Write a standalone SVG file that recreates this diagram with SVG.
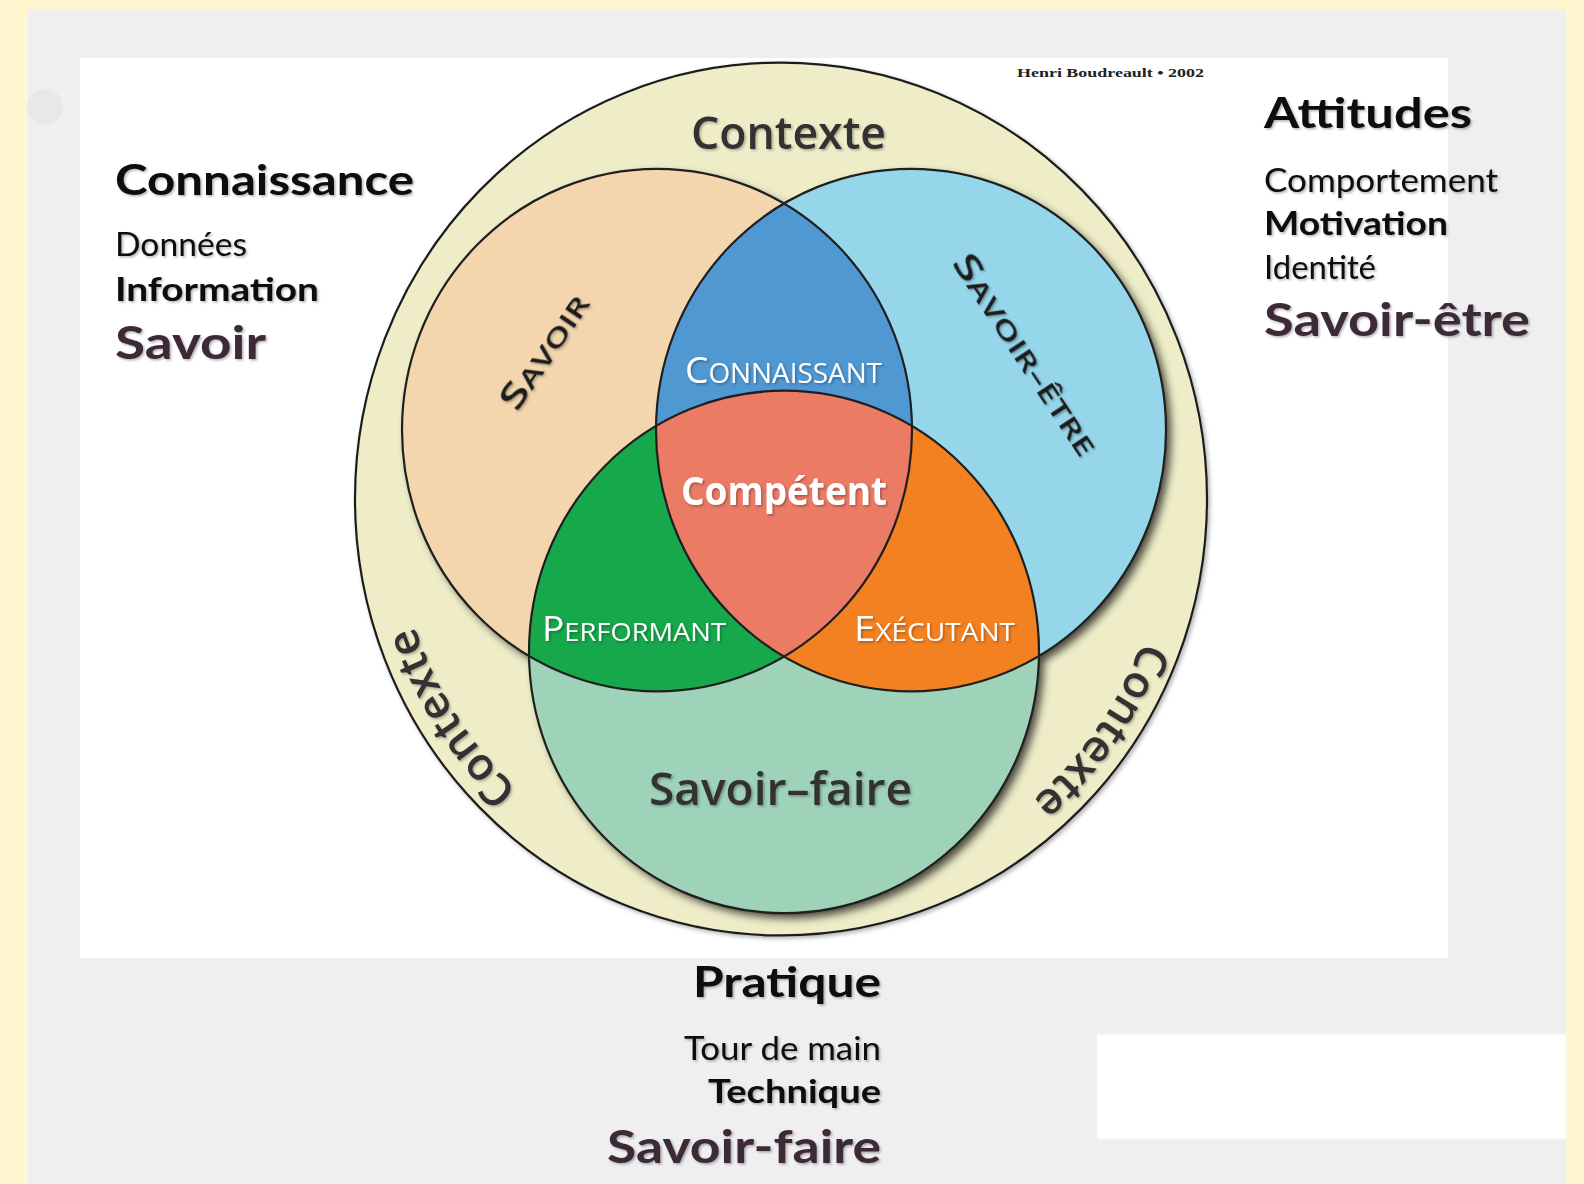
<svg xmlns="http://www.w3.org/2000/svg" xmlns:xlink="http://www.w3.org/1999/xlink" width="1584" height="1184" viewBox="0 0 1584 1184">
  <style>
    .side { font-family: Lato, "Open Sans", "Liberation Sans", sans-serif; fill: #0d0d0d; }
    .b { font-weight: 700; }
    .big { font-weight: 700; fill: #3c2a37; }
    .lbl { font-family: "Open Sans", "Noto Sans", "Liberation Sans", sans-serif; }
    .dark { fill: #333030; }
    .rot { fill: #1e1e1e; font-weight: 600; }
    .white { fill: #ffffff; }
    .edge { fill: none; stroke: #1f1f1f; stroke-width: 2.2; }
  </style>
  <defs>
    <filter id="shadow" x="-20%" y="-20%" width="140%" height="140%">
      <feDropShadow dx="5" dy="5" stdDeviation="4" flood-color="#000" flood-opacity="0.7"/>
    </filter>
    <filter id="oshadow" x="-10%" y="-10%" width="120%" height="120%">
      <feDropShadow dx="2" dy="2" stdDeviation="2" flood-color="#000" flood-opacity="0.3"/>
    </filter>
    <filter id="tshadow" x="-10%" y="-30%" width="120%" height="160%">
      <feDropShadow dx="1.5" dy="1.5" stdDeviation="1.2" flood-color="#000" flood-opacity="0.3"/>
    </filter>
    <circle id="cS" cx="-124" cy="-67.3" r="255"/>
    <circle id="cE" cx="130" cy="-67.3" r="255"/>
    <circle id="cF" cx="3" cy="149.3" r="255"/>
    <clipPath id="clipS"><use xlink:href="#cS"/></clipPath>
    <clipPath id="clipE"><use xlink:href="#cE"/></clipPath>
    <path id="arc" d="M 387 0 A 387 387 0 1 1 -387 0 A 387 387 0 1 1 387 0"/>
  </defs>

  <!-- background -->
  <rect x="0" y="0" width="1584" height="1184" fill="#FFF7D0"/>
  <rect x="28" y="9" width="1538" height="1175" fill="#EFEFEF"/>
  <circle cx="45" cy="107" r="18" fill="#E8E8E8"/>
  <rect x="80" y="58" width="1368" height="900" fill="#FFFFFF"/>
  <rect x="1097" y="1034" width="469" height="105" fill="#FFFFFF" stroke="#F6F6F6" stroke-width="1"/>

  <g id="diagram" transform="translate(781,499) scale(1,1.0245)">
    <g id="contexte-ring">
      <circle cx="0" cy="0" r="426" fill="#EEEDC8" stroke="#1f1f1f" stroke-width="2.2" filter="url(#oshadow)"/>
    </g>
    <g id="circles">
      <g filter="url(#shadow)">
        <use xlink:href="#cS" fill="#F3D6AD"/>
        <use xlink:href="#cE" fill="#96D6EB"/>
        <use xlink:href="#cF" fill="#9ED2B9"/>
      </g>
      <g clip-path="url(#clipS)">
        <use xlink:href="#cE" fill="#5098D2"/>
        <use xlink:href="#cF" fill="#17A84B"/>
      </g>
      <g clip-path="url(#clipE)">
        <use xlink:href="#cF" fill="#F38121"/>
      </g>
      <g clip-path="url(#clipS)">
        <g clip-path="url(#clipE)">
          <use xlink:href="#cF" fill="#EB7B65"/>
        </g>
      </g>
      <use xlink:href="#cS" class="edge"/>
      <use xlink:href="#cE" class="edge"/>
      <use xlink:href="#cF" class="edge"/>
    </g>
    <g id="ring-labels" filter="url(#tshadow)">
      <text class="lbl dark" font-size="44" font-weight="600" text-anchor="middle"><textPath xlink:href="#arc" startOffset="238">Contexte</textPath></text>
      <text class="lbl dark" font-size="44" font-weight="600" text-anchor="middle"><textPath xlink:href="#arc" startOffset="993">Contexte</textPath></text>
    </g>
  </g>

  <g id="labels" class="lbl" filter="url(#tshadow)">
    <text id="t-contexte" class="dark" x="691" y="149" font-size="45" font-weight="600" textLength="195" lengthAdjust="spacingAndGlyphs">Contexte</text>
    <text id="t-savoir" class="rot" transform="translate(554,358) rotate(-56)" text-anchor="middle" textLength="132" lengthAdjust="spacingAndGlyphs"><tspan font-size="34">S</tspan><tspan font-size="25">AVOIR</tspan></text>
    <text id="t-savoiretre" class="rot" transform="translate(1016,361) rotate(56.5)" text-anchor="middle" textLength="235" lengthAdjust="spacingAndGlyphs"><tspan font-size="34">S</tspan><tspan font-size="25">AVOIR–ÊTRE</tspan></text>
    <text id="t-connaissant" class="white" x="685" y="383" textLength="197" lengthAdjust="spacingAndGlyphs"><tspan font-size="36">C</tspan><tspan font-size="27">ONNAISSANT</tspan></text>
    <text id="t-competent" class="white" x="681" y="505" font-size="39" font-weight="700" textLength="206" lengthAdjust="spacingAndGlyphs">Compétent</text>
    <text id="t-performant" class="white" x="542" y="641" textLength="184" lengthAdjust="spacingAndGlyphs"><tspan font-size="34">P</tspan><tspan font-size="25">ERFORMANT</tspan></text>
    <text id="t-executant" class="white" x="854" y="641" textLength="161" lengthAdjust="spacingAndGlyphs"><tspan font-size="34">E</tspan><tspan font-size="25">XÉCUTANT</tspan></text>
    <text id="t-savoirfaire" class="dark" x="649" y="805" font-size="45" font-weight="600" textLength="263" lengthAdjust="spacingAndGlyphs">Savoir–faire</text>
  </g>

  <text id="credit" x="1017" y="77" font-family="'Liberation Serif', serif" font-weight="700" font-size="13.5" fill="#222" textLength="187" lengthAdjust="spacingAndGlyphs">Henri Boudreault • 2002</text>

  <g id="connaissance" class="side" filter="url(#tshadow)">
    <text class="b" x="115" y="195" font-size="42" textLength="299" lengthAdjust="spacingAndGlyphs">Connaissance</text>
    <text x="115" y="256" font-size="33" textLength="132" lengthAdjust="spacingAndGlyphs">Données</text>
    <text class="b" x="115" y="301" font-size="33" textLength="204" lengthAdjust="spacingAndGlyphs">Information</text>
    <text class="big" x="115" y="359" font-size="45" textLength="151" lengthAdjust="spacingAndGlyphs">Savoir</text>
  </g>

  <g id="attitudes" class="side" filter="url(#tshadow)">
    <text class="b" x="1264" y="128" font-size="42" textLength="208" lengthAdjust="spacingAndGlyphs">Attitudes</text>
    <text x="1264" y="192" font-size="33" textLength="234" lengthAdjust="spacingAndGlyphs">Comportement</text>
    <text class="b" x="1264" y="235" font-size="33" textLength="184" lengthAdjust="spacingAndGlyphs">Motivation</text>
    <text x="1264" y="279" font-size="33" textLength="112" lengthAdjust="spacingAndGlyphs">Identité</text>
    <text class="big" x="1264" y="336" font-size="45" textLength="266" lengthAdjust="spacingAndGlyphs">Savoir-être</text>
  </g>

  <g id="pratique" class="side" text-anchor="end" filter="url(#tshadow)">
    <text class="b" x="881" y="997" font-size="42" textLength="188" lengthAdjust="spacingAndGlyphs">Pratique</text>
    <text x="881" y="1060" font-size="33" textLength="197" lengthAdjust="spacingAndGlyphs">Tour de main</text>
    <text class="b" x="881" y="1103" font-size="33" textLength="173" lengthAdjust="spacingAndGlyphs">Technique</text>
    <text class="big" x="881" y="1163" font-size="46" textLength="274" lengthAdjust="spacingAndGlyphs">Savoir-faire</text>
  </g>
</svg>
